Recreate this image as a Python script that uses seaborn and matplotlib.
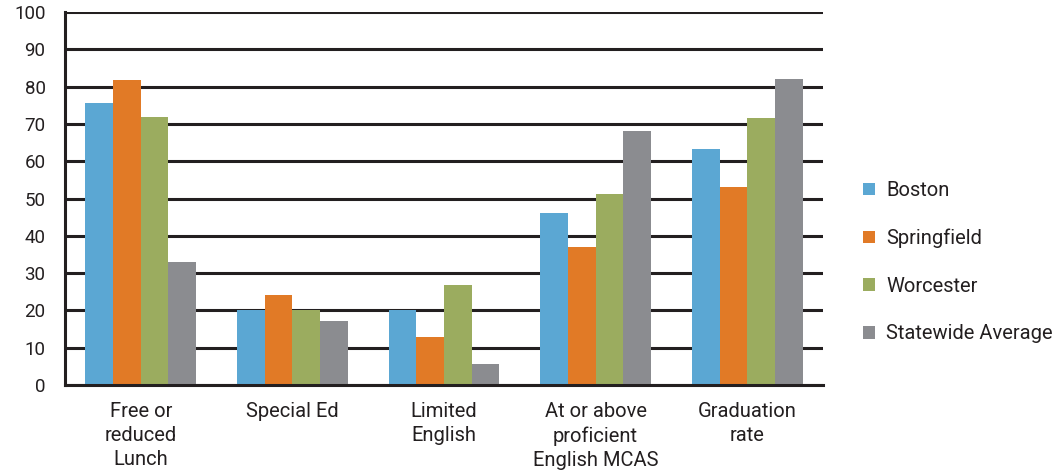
import matplotlib
matplotlib.use("Agg")
import matplotlib.pyplot as plt
import seaborn as sns
import pandas as pd
from matplotlib.patches import Patch

categories = ["Free or\nreduced\nLunch", "Special Ed", "Limited\nEnglish",
              "At or above\nproficient\nEnglish MCAS", "Graduation\nrate"]
series_names = ["Boston", "Springfield", "Worcester", "Statewide Average"]
boston = [75.5, 20.0, 20.0, 46.2, 63.3]
springfield = [81.7, 24.0, 12.8, 37.1, 53.1]
worcester = [71.8, 20.0, 26.9, 51.2, 71.6]
statewide = [33.0, 17.2, 5.6, 68.1, 82.0]
colors = ["#5BA7D3", "#E17A26", "#9BAC5F", "#8B8C90"]
y_ticks = list(range(0, 101, 10))

rows = []
for name, vals in zip(series_names, [boston, springfield, worcester, statewide]):
    for c, v in zip(categories, vals):
        rows.append({"category": c, "series": name, "value": v})
df = pd.DataFrame(rows)

sns.set_theme(style="white")
plt.rcParams['font.family'] = ['Roboto', 'DejaVu Sans']
text_color = "#231F20"

fig = plt.figure(figsize=(10.63, 4.71), dpi=100)
ax = fig.add_axes([65/1063, 1 - 385/471, (823-65)/1063, (385-12)/471])

sns.barplot(data=df, x="category", y="value", hue="series", order=categories,
            hue_order=series_names, palette=colors, width=0.73, saturation=1,
            ax=ax, legend=False, linewidth=0, errorbar=None)

ax.set_ylim(0, 100)
ax.set_xlim(-0.5, len(categories) - 0.5)
ax.set_yticks(y_ticks)
ax.set_yticklabels([str(t) for t in y_ticks], fontsize=13.5, color=text_color)
ax.set_xticks(range(len(categories)))
ax.set_xticklabels(categories, fontsize=14.5, color=text_color, linespacing=1.35)
ax.tick_params(axis="both", length=0)
ax.tick_params(axis="x", pad=12)
ax.tick_params(axis="y", pad=14)
ax.set_xlabel("")
ax.set_ylabel("")

ax.set_axisbelow(True)
ax.yaxis.grid(True, color=text_color, linewidth=2.2)
ax.xaxis.grid(False)
for s in ["top", "right"]:
    ax.spines[s].set_visible(False)
for s in ["left", "bottom"]:
    ax.spines[s].set_color(text_color)
    ax.spines[s].set_linewidth(2.2)

handles = [Patch(facecolor=c, edgecolor="none", label=n) for c, n in zip(colors, series_names)]
leg = fig.legend(handles=handles, loc="upper left", bbox_to_anchor=(863/1063, 1 - 181/471),
                 frameon=False, fontsize=14.5, handlelength=0.6, handleheight=0.6,
                 handletextpad=0.55, labelspacing=1.42, borderaxespad=0, borderpad=0)
for t in leg.get_texts():
    t.set_color(text_color)

fig.savefig("out.png", dpi=100)
